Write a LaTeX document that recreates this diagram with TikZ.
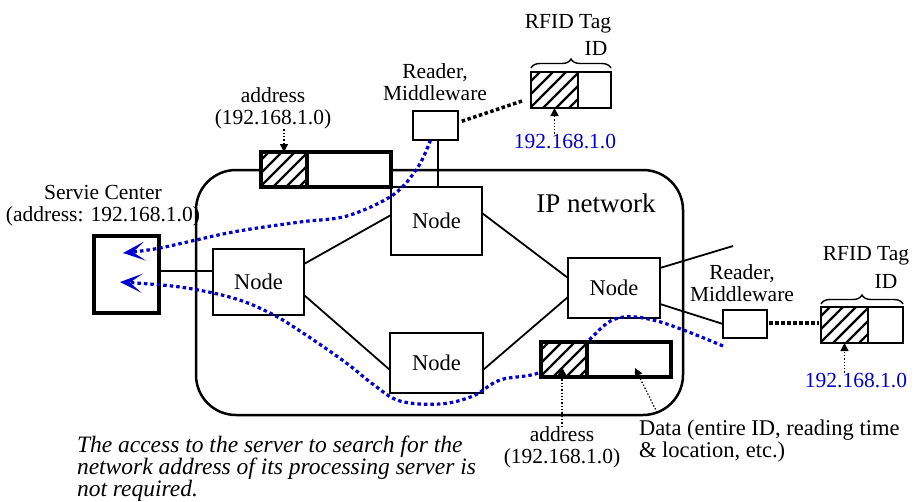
\documentclass[tikz,border=0pt]{standalone}
\usepackage{fontspec}
\setmainfont{Liberation Serif}
\usetikzlibrary{arrows.meta,calc,decorations.pathreplacing}
\definecolor{flowblue}{RGB}{0,0,205}
\begin{document}
\begin{tikzpicture}[x=1pt,y=-1pt,
  font=\fontsize{21.5}{22}\selectfont,
  every node/.style={inner sep=0pt, outer sep=0pt},
  netnode/.style={draw, fill=white, line width=1.8pt, minimum width=91pt, minimum height=66pt, font=\fontsize{22.5}{24}\selectfont},
  boxthick/.style={draw, fill=white, line width=3.2pt},
  hatchbox/.style={boxthick, path picture={\foreach \k in {0,...,7} \draw[line width=2.2pt] ($(path picture bounding box.south west)+(\k*13-40,0)$) -- ++(60,-60);}},
  readerbox/.style={draw, fill=white, line width=2.2pt},
  link/.style={line width=1.8pt},
  ptr/.style={line width=1.3pt, dotted, -{Triangle[length=8pt,width=8pt]}},
  radiolink/.style={line width=3.5pt, dash pattern=on 3.5pt off 2.5pt},
  flow/.style={flowblue, line width=3.2pt, dash pattern=on 3.5pt off 3pt, -{Stealth[length=22pt,width=19pt,inset=12pt]}},
  lbl/.style={align=center},
  ipaddr/.style={text=flowblue},
  bracestyle/.style={decorate, decoration={brace, amplitude=9pt}, line width=1.4pt}
]
\useasboundingbox (0,0) rectangle (917,501);

% IP network cloud
\draw[line width=2.5pt, rounded corners=40pt] (196,170) rectangle (683,415);

% network nodes
\node[netnode, minimum height=68pt] (top) at (436.5,221) {Node};
\node[netnode] (left) at (258.5,282) {Node};
\node[netnode, minimum width=93pt, minimum height=60pt] (bot) at (436.5,363) {Node};
\node[netnode, minimum width=92pt, minimum height=60pt] (right) at (614,288) {Node};

% service center
\node[boxthick, line width=3.5pt, minimum width=65pt, minimum height=77pt] (svc) at (126.5,274.5) {};

% readers
\node[readerbox, minimum width=45pt, minimum height=29pt] (rd1) at (435.5,125.5) {};
\node[readerbox, minimum width=44pt, minimum height=28pt] (rd2) at (745,324) {};

% packet on top
\node[hatchbox, minimum width=46pt, minimum height=35pt] (p1h) at (284,169.5) {};
\node[boxthick, minimum width=84pt, minimum height=35pt] (p1w) at (349,169.5) {};

% tags
\node[hatchbox, line width=2.6pt, minimum width=47pt, minimum height=36pt] (t1h) at (554.5,90) {};
\node[boxthick, line width=2.6pt, minimum width=33pt, minimum height=36pt] (t1w) at (594.5,90) {};
\node[hatchbox, line width=2.6pt, minimum width=47pt, minimum height=36pt] (t2h) at (844.5,325) {};
\node[boxthick, line width=2.6pt, minimum width=35pt, minimum height=36pt] (t2w) at (885.5,325) {};

% links
\draw[link] ([yshift=3.5pt]svc.east) -- ([yshift=3.5pt]svc.east -| left.west);
\draw[link] ([yshift=18pt]left.east) -- ([yshift=6pt]top.west);
\draw[link] ([yshift=-13pt]left.east) -- ([yshift=-7pt]bot.west);
\draw[link] ([yshift=8pt]top.east) -- ([yshift=10pt]right.west);
\draw[link] ([yshift=-7pt]bot.east) -- ([yshift=-9pt]right.west);
\coordinate (freeend) at (733,246);
\draw[link] ([yshift=20pt]right.east) -- (freeend);
\draw[link] ([yshift=-16pt]right.east) -- (rd2.west);
\draw[link] ([xshift=2.5pt]rd1.south) -- ([xshift=2.5pt]rd1.south |- top.north);

% radio links
\draw[radiolink, shorten <=4pt, shorten >=9pt] ([yshift=3pt]rd1.east) -- ([yshift=-8pt]t1h.west);
\draw[radiolink, shorten <=2pt, shorten >=2pt] ([yshift=1pt]rd2.east) -- ([yshift=1pt]rd2.east -| t2h.west);

% flows
\coordinate (f1s) at ([xshift=-5pt]rd1.south);
\draw[flow] plot[smooth, tension=0.55] coordinates {(f1s) (418,167) (393,195) (347,216) (300,222) (233,232) (160,248) (123,253)};
\coordinate (f2s) at (723,346);
\draw[flow] plot[smooth, tension=0.6] coordinates {(f2s) (657,321) (615,319) (583,345) (541,372) (500,380) (473,396) (440,404) (400,401) (374,385) (345,362) (300,331) (270,313) (233,298) (180,287) (120,282)};

% packet at bottom
\node[hatchbox, minimum width=46pt, minimum height=35pt] (p2h) at (564,359.5) {};
\node[boxthick, minimum width=84pt, minimum height=35pt] (p2w) at (629,359.5) {};

% braces
\draw[bracestyle] ($(t1h.north west)+(0,-4)$) -- ($(t1w.north east)+(0,-4)$);
\draw[bracestyle] ($(t2h.north west)+(0,-3)$) -- ($(t2w.north east)+(0,-3)$);

% labels
\node[lbl] (addr1) at (273,108.7) {address\\(192.168.1.0)};
\node[lbl] (svclbl) at (103,206) {Servie Center\\(address: 192.168.1.0)};
\node[lbl] (rd1lbl) at (435,82) {Reader,\\Middleware};
\node[lbl] (rd2lbl) at (742,283) {Reader,\\Middleware};
\node[anchor=base] (tag1lbl) at (568,28) {RFID Tag};
\node[anchor=base] (id1) at (596,55) {ID};
\node[anchor=base, ipaddr] (ip1) at (565,148) {192.168.1.0};
\node[anchor=base, font=\fontsize{27}{28}\selectfont] (ipnet) at (596,212) {IP network};
\node[anchor=base] (tag2lbl) at (866,260) {RFID Tag};
\node[anchor=base] (id2) at (886,288) {ID};
\node[anchor=base, ipaddr] (ip2) at (856,387) {192.168.1.0};
\node[lbl] (addr2) at (562,447.6) {address\\(192.168.1.0)};
\node[align=left, anchor=west, font=\fontsize{22.5}{22}\selectfont] (data) at (639,440.6) {Data (entire ID, reading time\\\& location, etc.)};
\node[align=left, anchor=west, font=\fontsize{23.5}{22}\selectfont\itshape] (note) at (77,469.2) {The access to the server to search for the\\network address of its processing server is\\not required.};

% pointers
\draw[ptr] (addr1.south -| p1h.north) -- (p1h.north);
\draw[ptr] (ip1.north -| t1h.south) -- (t1h.south);
\draw[ptr] (ip2.north -| t2h.south) -- (t2h.south);
\coordinate (a2t) at ($(p2h.south)+(-2,-10)$);
\draw[ptr] (addr2.north -| a2t) -- (a2t);
\coordinate (dt) at ($(p2w.south)+(6,-9)$);
\coordinate (ds) at ($(data.north west)+(18,-7)$);
\draw[ptr] (ds) -- (dt);
\end{tikzpicture}
\end{document}
